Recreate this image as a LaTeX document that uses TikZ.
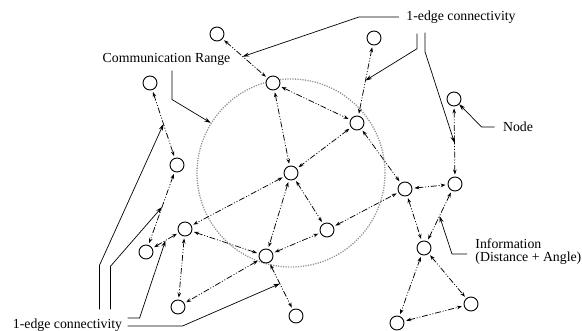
\documentclass[tikz,border=0pt]{standalone}
\usepackage{fontspec}
\setmainfont{Liberation Serif}
\usetikzlibrary{positioning,arrows.meta}

\begin{document}
\begin{tikzpicture}[x=1pt,y=-1pt,
	every node/.style={circle,draw=black,fill=white,line width=0.9pt,minimum size=14pt,inner sep=0pt},
	txt/.style={rectangle,draw=none,fill=none,minimum size=0pt,font=\fontsize{13.8}{13}\selectfont},
	link/.style={line width=0.75pt,dash pattern=on 6pt off 1.8pt on 1pt off 1.8pt on 1pt off 1.8pt,
		{Stealth[length=5pt,width=3.6pt]}-{Stealth[length=5pt,width=3.6pt]},shorten <=2pt,shorten >=2pt},
	pointer/.style={line width=0.7pt,-{Stealth[length=6.5pt,width=4.2pt]}}]
			\useasboundingbox (0,0) rectangle (582,331);

			%communication range
			\node [draw=gray!85,fill=none,dash pattern=on 1.2pt off 1.3pt,line width=1.3pt,minimum size=188pt] (range) at (291,173) {};

			%nodes
			\node (n1) at (217,34) {};
			\node (n2) at (374,38) {};
			\node (n3) at (150,83) {};
			\node (n4) at (273,83) {};
			\node (n5) at (454,99) {};
			\node (n6) at (357,123) {};
			\node (n7) at (177,165) {};
			\node (n8) at (291,173) {};
			\node (n9) at (405,189) {};
			\node (n10) at (455,184) {};
			\node (n11) at (185,229) {};
			\node (n12) at (327,230) {};
			\node (n13) at (146,252) {};
			\node (n14) at (266,256) {};
			\node (n15) at (424,248) {};
			\node (n16) at (178,307) {};
			\node (n17) at (296,316) {};
			\node (n18) at (471,304) {};
			\node (n19) at (397,323) {};

			%edges
			\draw[link] (n1) -- coordinate[pos=.45] (c1) (n4);
			\draw[link] (n2) -- coordinate[pos=.5] (c2) (n6);
			\draw[link] (n3) -- coordinate[pos=.5] (c3) (n7);
			\draw[link] (n4) -- (n6);
			\draw[link] (n4) -- (n8);
			\draw[link] (n6) -- (n8);
			\draw[link] (n6) -- (n9);
			\draw[link] (n5) -- coordinate[pos=.52] (c4) (n10);
			\draw[link] (n7) -- coordinate[pos=.48] (c5) (n13);
			\draw[link] (n8) -- (n11);
			\draw[link] (n8) -- (n12);
			\draw[link] (n8) -- (n14);
			\draw[link] (n13) -- coordinate[pos=.5] (c6) (n11);
			\draw[link] (n11) -- (n14);
			\draw[link] (n11) -- (n16);
			\draw[link] (n14) -- (n16);
			\draw[link] (n14) -- coordinate[pos=.45] (c7) (n17);
			\draw[link] (n14) -- (n12);
			\draw[link] (n12) -- (n9);
			\draw[link] (n9) -- (n10);
			\draw[link] (n9) -- (n15);
			\draw[link] (n10) -- coordinate[pos=.5] (c8) (n15);
			\draw[link] (n15) -- (n19);
			\draw[link] (n15) -- (n18);
			\draw[link] (n19) -- (n18);

			%labels
			\node [txt] (top) at (461,17) {1-edge connectivity};
			\node [txt] (bot) at (67.5,325) {1-edge connectivity};
			\node [txt] (comm) at (166.5,59) {Communication Range};
			\node [txt] (nlab) at (518,127) {Node};
			\node [txt,anchor=west,align=left] (info) at (475,252) {Information\\(Distance + Angle)};

			%pointers
			\draw[pointer] ([xshift=-7pt]top.west) -- ++(-40,0) -- (c1);
			\draw[pointer] ([xshift=-44pt,yshift=-10pt]top.south) -- ++(0,15) -- (c2);
			\draw[pointer] ([xshift=-36pt,yshift=-9pt]top.south) -- ++(0,19) -- (c4);
			\draw[pointer] ([xshift=5.5pt,yshift=-5pt]comm.south) -- ++(0,29) -- (range.148);
			\draw[pointer] ([xshift=-8pt]nlab.west) -- ++(-13,0) -- (n5);
			\draw[pointer] ([xshift=-8pt,yshift=-2pt]info.west) -- ++(-15,0) -- (c8);
			\draw[pointer] ([xshift=5pt,yshift=-1pt]bot.east) -- ++(55,0) -- (c7);
			\draw[pointer] ([xshift=5pt,yshift=7pt]bot.east) -- ++(12,0) -- (c6);
			\draw[pointer] ([xshift=43pt,yshift=9pt]bot.north) -- ++(0,-43) -- (c5);
			\draw[pointer] ([xshift=32pt,yshift=9pt]bot.north) -- ++(0,-44) -- (c3);
		\end{tikzpicture}
\end{document}
